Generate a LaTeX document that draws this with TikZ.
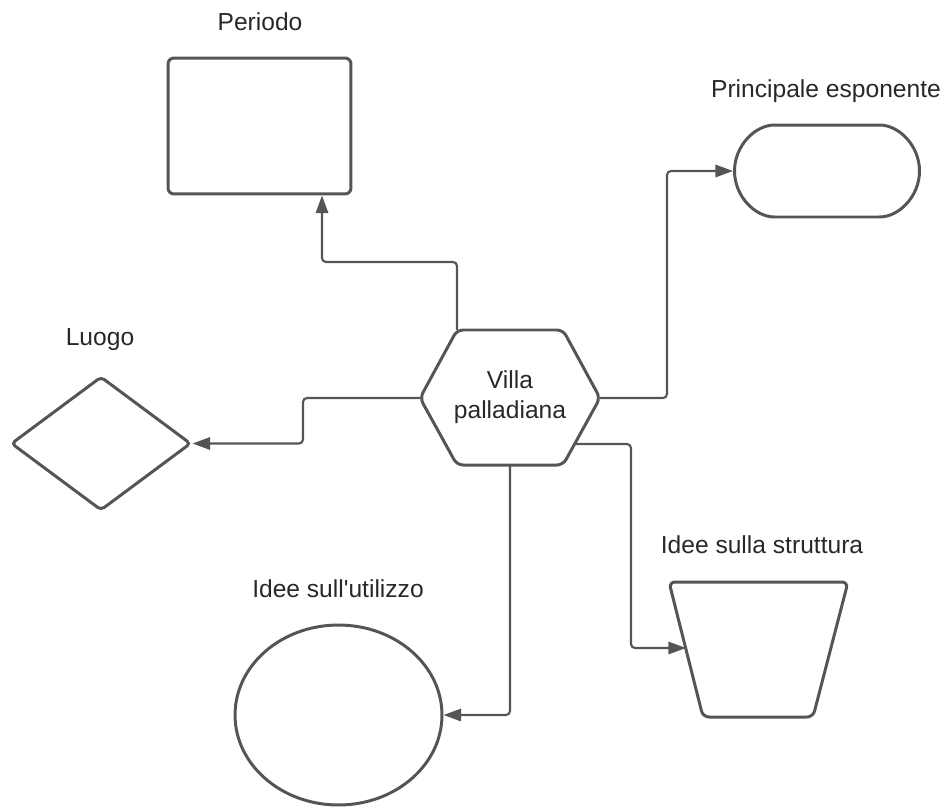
\documentclass[tikz,border=0pt]{standalone}
\usepackage{fontspec}
\setmainfont{Liberation Sans}
\usetikzlibrary{shapes.geometric,shapes.misc,arrows.meta}
\definecolor{linegray}{RGB}{85,85,85}
\definecolor{textgray}{RGB}{40,40,40}
\tikzset{
  shapebox/.style={draw=linegray, line width=1.7pt, inner sep=0pt, rounded corners=0.12cm},
  lbl/.style={text=textgray, font=\fontsize{14}{17}\selectfont, inner sep=0pt},
  link/.style={draw=linegray, line width=1.2pt, rounded corners=0.08cm,
    -{Triangle[length=10pt,width=7pt]}}
}
\begin{document}
\begin{tikzpicture}[x=0.02cm, y=-0.02cm]
  \useasboundingbox (0,0) rectangle (952,808);
  % hexagon
  \coordinate (hexW) at (420,398);
  \coordinate (hexTL) at (457,330);
  \coordinate (hexTR) at (563,330);
  \coordinate (hexE) at (600,398);
  \coordinate (hexBR) at (563,465);
  \coordinate (hexBL) at (457,465);
  \coordinate (hexS) at (510,465);
  \coordinate (hexSE) at (575,444);
  \draw[draw=linegray, line width=1.7pt, rounded corners=0.12cm]
    (hexW) -- (hexTL) -- (hexTR) -- (hexE) -- (hexBR) -- (hexBL) -- cycle;
  \node [lbl, align=center] (villa) at (510,397) {Villa\\palladiana};

  % trapezium
  \coordinate (strTL) at (669,582);
  \coordinate (strTR) at (848,582);
  \coordinate (strBR) at (813,717);
  \coordinate (strBL) at (703,717);
  \coordinate (strW) at (686,648);
  \draw[draw=linegray, line width=1.7pt, rounded corners=0.12cm]
    (strTL) -- (strTR) -- (strBR) -- (strBL) -- cycle;

  % targets
  \node [shapebox, rectangle, minimum width=3.66cm, minimum height=2.72cm] (periodo) at (259.5,126) {};
  \node [shapebox, rounded rectangle, minimum width=3.7cm, minimum height=1.84cm] (espon) at (827,171) {};
  \node [shapebox, diamond, minimum width=3.6cm, minimum height=2.68cm, rounded corners=0.08cm] (luogo) at (101,443.5) {};
  \node [shapebox, ellipse, minimum width=4.14cm, minimum height=3.6cm] (utilizzo) at (338.5,715) {};

  % labels
  \node [lbl] (lperiodo) at (260,22) {Periodo};
  \node [lbl] (lespon) at (826,91) {Principale esponente};
  \node [lbl] (lluogo) at (100,340) {Luogo};
  \node [lbl] (lstrutt) at (762,545) {Idee sulla struttura};
  \node [lbl] (lutil) at (338,589) {Idee sull\textquotesingle utilizzo};

  % connectors
  \coordinate (c1) at (322,262);
  \coordinate (c2) at (667,398);
  \coordinate (c3) at (303,398);
  \coordinate (c5) at (631,444);
  \draw [link] (hexTL) |- (c1) -- (periodo.south -| c1);
  \draw [link] (hexE) -- (c2) |- (espon.west);
  \draw [link] (hexW) -- (c3) |- (luogo.east);
  \draw [link] (hexS) |- (utilizzo.east);
  \draw [link] (hexSE) -- (c5) |- (strW);
\end{tikzpicture}
\end{document}
